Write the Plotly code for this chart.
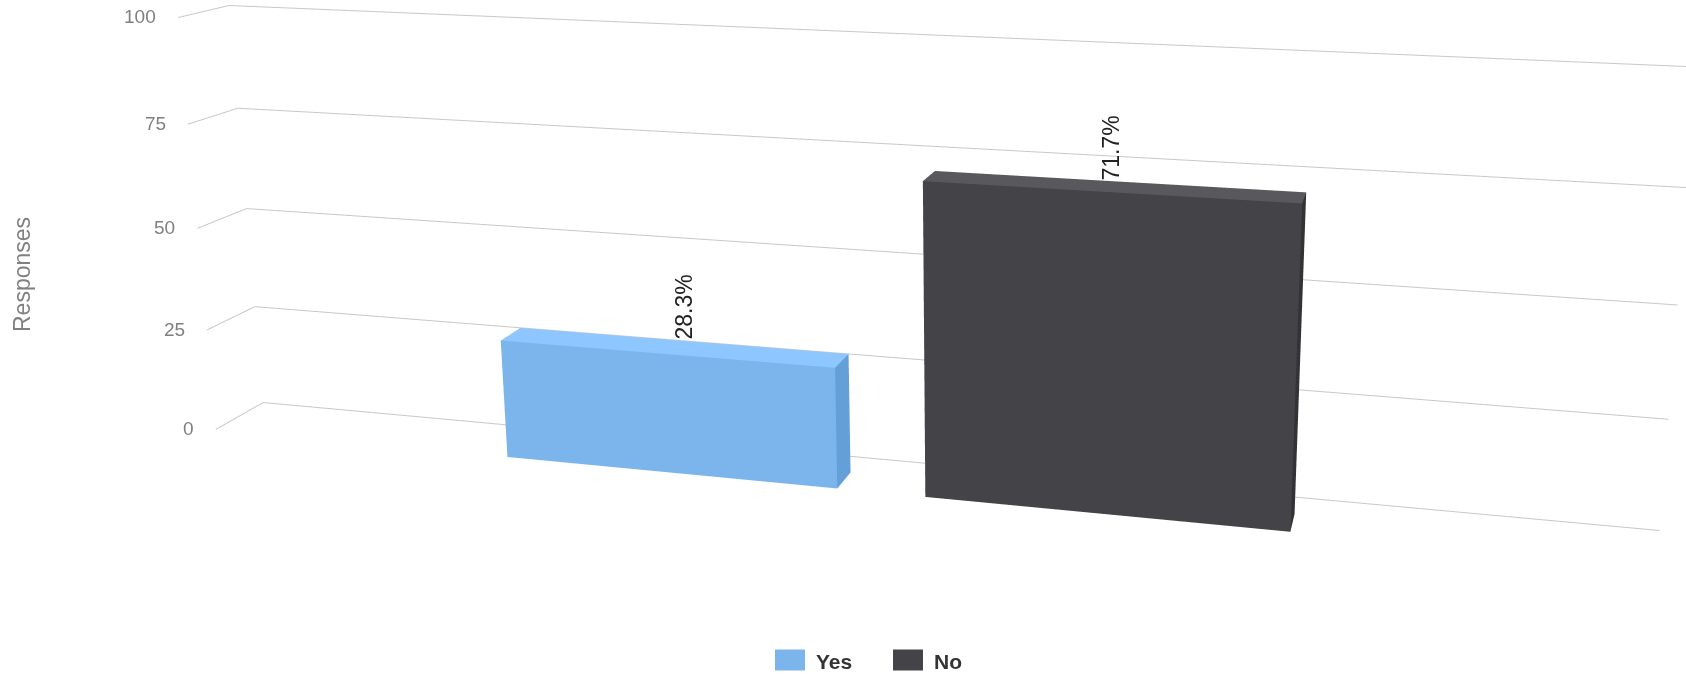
import numpy as np
import plotly.graph_objects as go

WIDTH, HEIGHT = 1686, 674

# ---- chart data
categories = ["Yes", "No"]
values = [28.3, 71.7]
value_labels = ["28.3%", "71.7%"]
ticks = [0, 25, 50, 75, 100]
axis_title = "Responses"

# ---- styles: (front, top, side) faces of each column
face_colors = [("#7cb5ec", "#8ec7ff", "#649fd8"), ("#434348", "#58585d", "#333337")]
grid_color = "#c8c8c8"
label_dx = [3, -6]

# ---- the oblique 3D view of the original chart
eye_world = np.array([0.3842, -7.4827, 4.7807])
view_dir = np.array([-0.09465, 0.78527, -0.61188])
view_up = np.array([-0.07714, 0.60701, 0.79094])
box_x, box_y, box_z = 15.7718, 0.5031, 3.9869     # size of the walled box
shear_xy, shear_xz, shear_yz = 0.2334, -0.4007, 2.4888
first_col, col_step = 0.34930, 0.30165            # column centres, fraction of the wall width
col_width = 0.7974                                # in category units
depth_front, depth_back = 0.0081, 0.5116          # column depth, fraction of the wall depth


def pos(cat, depth, value):
    """Category position, depth fraction and axis value to scene coordinates."""
    fx = first_col + cat * col_step - 0.5
    fy = depth - 0.5
    fz = value / 100 - 0.5
    return (fx * box_x + shear_xy * fy + shear_xz * fz,
            fy * box_y + shear_yz * fz,
            fz * box_z)


cat_lo = -first_col / col_step
cat_hi = (1 - first_col) / col_step
corners = np.array([pos(c, d, v) for c in (cat_lo, cat_hi) for d in (0, 1) for v in (ticks[0], ticks[-1])])
lo, hi = corners.min(0), corners.max(0)
pad = (hi - lo) * 0.02
lo, hi = lo - pad, hi + pad
eye = eye_world - (lo + hi) / 2
center = eye + view_dir * 2

fig = go.Figure()

# columns
tri_i = [0, 0, 4, 4, 0, 0, 1, 1, 3, 3, 0, 0]
tri_j = [1, 2, 5, 6, 1, 5, 2, 6, 2, 6, 3, 7]
tri_k = [2, 3, 6, 7, 5, 4, 6, 5, 6, 7, 7, 4]
for c, (name, val, col) in enumerate(zip(categories, values, face_colors)):
    a, b = c - col_width / 2, c + col_width / 2
    pts = [pos(a, depth_front, 0), pos(b, depth_front, 0), pos(b, depth_back, 0), pos(a, depth_back, 0),
           pos(a, depth_front, val), pos(b, depth_front, val), pos(b, depth_back, val), pos(a, depth_back, val)]
    vx, vy, vz = zip(*pts)
    fig.add_trace(go.Mesh3d(
        x=vx, y=vy, z=vz, i=tri_i, j=tri_j, k=tri_k, name=name, flatshading=True, showlegend=False,
        facecolor=[col[0]] * 2 + [col[1]] * 2 + [col[0]] * 2 + [col[2]] * 2 + [col[0]] * 2 + [col[2]] * 2,
        lighting=dict(ambient=1, diffuse=0, specular=0, fresnel=0, roughness=1), hoverinfo="skip"))

# grid lines on the side wall and the back wall
gx, gy, gz = [], [], []
for t in ticks:
    for p in (pos(cat_lo, 0, t), pos(cat_lo, 1, t), pos(cat_hi, 1, t), (None, None, None)):
        gx.append(p[0]); gy.append(p[1]); gz.append(p[2])
fig.add_trace(go.Scatter3d(x=gx, y=gy, z=gz, mode="lines", line=dict(color=grid_color, width=2),
                           showlegend=False, hoverinfo="skip"))


def scene_text(point, **kw):
    return dict(x=point[0], y=point[1], z=point[2], showarrow=False, **kw)


scene_notes = [scene_text(pos(cat_lo, 0, t), text=str(t), xanchor="right", xshift=-20, yshift=1,
                          font=dict(family="Liberation Sans", size=19, color="#808080")) for t in ticks]
scene_notes += [scene_text(pos(c, depth_back, v), text=l, textangle=-90, yanchor="bottom", xshift=dx, yshift=-1,
                           font=dict(family="Liberation Sans", size=23, color="#222222"))
                for c, (v, l, dx) in enumerate(zip(values, value_labels, label_dx))]

# legend keys
legend_shapes, legend_texts = [], []
for x0, name, col in zip((775, 893), categories, face_colors):
    legend_shapes.append(dict(type="rect", xref="paper", yref="paper", x0=x0 / WIDTH, x1=(x0 + 30) / WIDTH,
                              y0=1 - 670.5 / HEIGHT, y1=1 - 649.5 / HEIGHT, fillcolor=col[0], line=dict(width=0)))
    legend_texts.append(dict(x=(x0 + 39) / WIDTH, y=1 - 661 / HEIGHT, xref="paper", yref="paper", xanchor="left",
                             yanchor="middle", text=name, showarrow=False,
                             font=dict(family="Liberation Sans", size=21, color="#333333", weight=700)))

hidden = dict(visible=False, showgrid=False, showbackground=False, zeroline=False, showspikes=False)
fig.update_layout(
    width=WIDTH, height=HEIGHT, margin=dict(l=0, r=0, t=0, b=0), paper_bgcolor="white", showlegend=False,
    shapes=legend_shapes,
    scene=dict(
        domain=dict(x=[0, 1], y=[0, 1]), aspectmode="manual",
        aspectratio=dict(x=hi[0] - lo[0], y=hi[1] - lo[1], z=hi[2] - lo[2]),
        xaxis=dict(range=[lo[0], hi[0]], **hidden),
        yaxis=dict(range=[lo[1], hi[1]], **hidden),
        zaxis=dict(range=[lo[2], hi[2]], **hidden),
        camera=dict(eye=dict(x=eye[0], y=eye[1], z=eye[2]),
                    center=dict(x=center[0], y=center[1], z=center[2]),
                    up=dict(x=view_up[0], y=view_up[1], z=view_up[2])),
        annotations=scene_notes),
    annotations=legend_texts + [dict(x=22 / WIDTH, y=1 - 275 / HEIGHT, xref="paper", yref="paper", xanchor="center",
                                     yanchor="middle", showarrow=False, text=axis_title, textangle=-90,
                                     font=dict(family="Liberation Sans", size=23, color="#808080"))])

fig.write_html("out.html", config={"displayModeBar": False}, post_script="document.body.style.margin='0';")
